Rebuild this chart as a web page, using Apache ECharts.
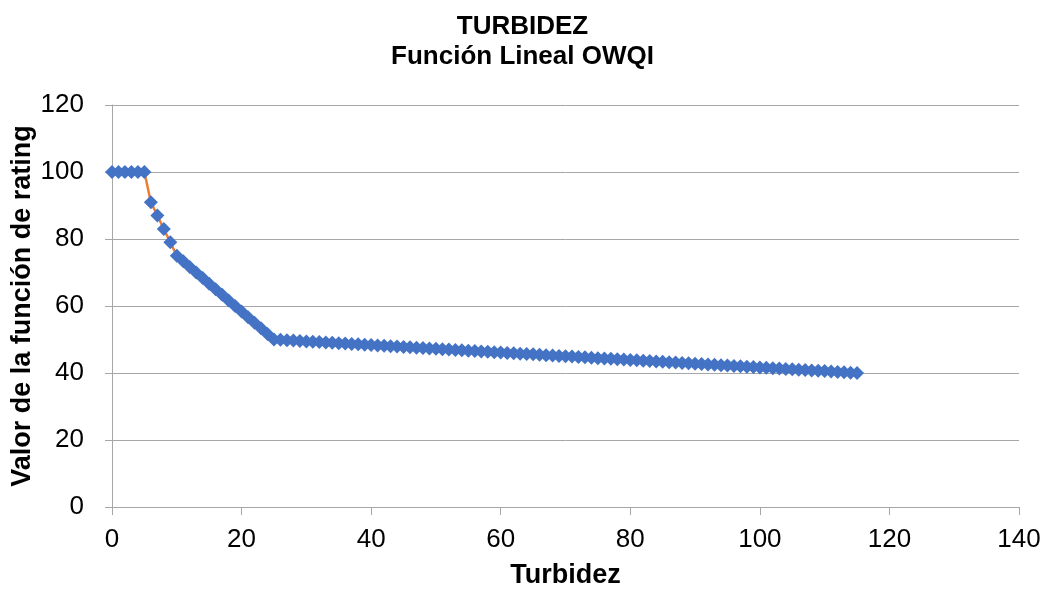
<!DOCTYPE html>
<html>
<head>
<meta charset="utf-8">
<script src="https://cdn.jsdelivr.net/npm/echarts@6/dist/echarts.min.js"></script>
<style>html,body{margin:0;padding:0;background:#fff}#c{width:1045px;height:590px}</style>
</head>
<body>
<div id="c"></div>
<script>
const titleLines = ['TURBIDEZ', 'Función Lineal OWQI'];
const xAxisName = 'Turbidez';
const yAxisName = 'Valor de la función de rating';
const xTicks = [0, 20, 40, 60, 80, 100, 120, 140];
const yTicks = [0, 20, 40, 60, 80, 100, 120];

const turbidez = [
  0,1,2,3,4,5,6,7,8,9,10,11,12,13,14,15,16,17,18,19,20,21,22,23,24,25,
  26,27,28,29,30,31,32,33,34,35,36,37,38,39,40,41,42,43,44,45,46,47,48,49,50,
  51,52,53,54,55,56,57,58,59,60,61,62,63,64,65,66,67,68,69,70,71,72,73,74,75,
  76,77,78,79,80,81,82,83,84,85,86,87,88,89,90,91,92,93,94,95,96,97,98,99,100,
  101,102,103,104,105,106,107,108,109,110,111,112,113,114,115
];
const rating = [
  100,100,100,100,100,100,91,87,83,79,75,73.33,71.67,70,68.33,66.67,65,63.33,61.67,60,58.33,56.67,55,53.33,51.67,50,
  49.89,49.78,49.67,49.56,49.44,49.33,49.22,49.11,49,48.89,48.78,48.67,48.56,48.44,48.33,48.22,48.11,48,47.89,47.78,47.67,47.56,47.44,47.33,47.22,
  47.11,47,46.89,46.78,46.67,46.56,46.44,46.33,46.22,46.11,46,45.89,45.78,45.67,45.56,45.44,45.33,45.22,45.11,45,44.89,44.78,44.67,44.56,44.44,
  44.33,44.22,44.11,44,43.89,43.78,43.67,43.56,43.44,43.33,43.22,43.11,43,42.89,42.78,42.67,42.56,42.44,42.33,42.22,42.11,42,41.89,41.78,41.67,
  41.56,41.44,41.33,41.22,41.11,41,40.89,40.78,40.67,40.56,40.44,40.33,40.22,40.11,40
];

const points = turbidez.map((x, i) => [x, rating[i]]);
const font = 'Liberation Sans, Arial, sans-serif';
const axisGray = '#A6A6A6';

const chart = echarts.init(document.getElementById('c'), null, {renderer: 'canvas'});
chart.setOption({
  animation: false,
  backgroundColor: '#fff',
  title: {
    text: titleLines.join('\n'),
    left: 'center',
    top: 7,
    textStyle: {fontFamily: font, fontSize: 26, fontWeight: 'bold', color: '#000', lineHeight: 30}
  },
  grid: {left: 112, right: 26, top: 105, bottom: 83, containLabel: false, outerBoundsMode: 'none'},
  xAxis: {
    type: 'value',
    min: xTicks[0], max: xTicks[xTicks.length - 1], interval: 20,
    name: xAxisName, nameLocation: 'middle', nameGap: 55, nameMoveOverlap: false,
    nameTextStyle: {fontFamily: font, fontSize: 27, fontWeight: 'bold', color: '#000'},
    axisLine: {show: true, lineStyle: {color: axisGray, width: 1}},
    axisTick: {show: true, inside: false, length: 8, lineStyle: {color: axisGray}},
    axisLabel: {fontFamily: font, fontSize: 26, color: '#000', margin: 20},
    splitLine: {show: false}
  },
  yAxis: {
    type: 'value',
    min: yTicks[0], max: yTicks[yTicks.length - 1], interval: 20,
    name: yAxisName, nameLocation: 'middle', nameGap: 76, nameRotate: 90, nameMoveOverlap: false,
    nameTextStyle: {fontFamily: font, fontSize: 27, fontWeight: 'bold', color: '#000'},
    axisLine: {show: true, lineStyle: {color: axisGray, width: 1}},
    axisTick: {show: true, inside: false, length: 7, lineStyle: {color: axisGray}},
    axisLabel: {fontFamily: font, fontSize: 26, color: '#000', margin: 28},
    splitLine: {show: true, lineStyle: {color: axisGray, width: 1}}
  },
  series: [{
    type: 'line',
    data: points,
    symbol: 'diamond',
    symbolSize: 14,
    showAllSymbol: true,
    lineStyle: {color: '#ED7D31', width: 2.5},
    itemStyle: {color: '#4472C4', borderWidth: 0},
    z: 3
  }]
});
</script>
</body>
</html>
